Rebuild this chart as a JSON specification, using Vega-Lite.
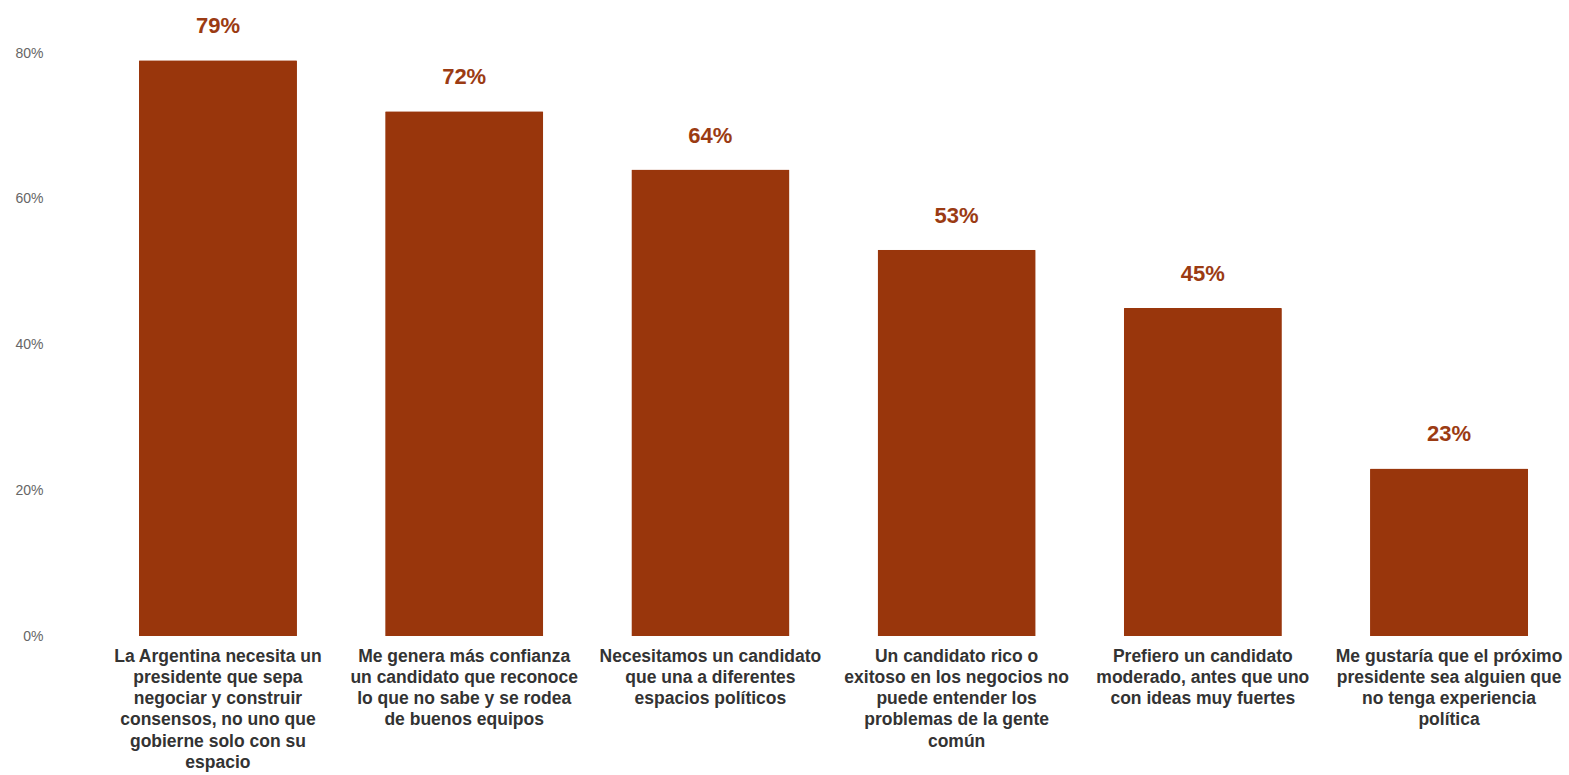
{
  "$schema": "https://vega.github.io/schema/vega-lite/v6.json",
  "autosize": {"type": "none"},
  "padding": {"left": 100, "top": 53, "right": 2, "bottom": 139},
  "width": 1467,
  "height": 583,
  "background": "white",
  "config": {"view": {"stroke": null}},
  "data": {
    "values": [
      {"label": "La Argentina necesita un|presidente que sepa|negociar y construir|consensos, no uno que|gobierne solo con su|espacio", "value": 0.79, "text": "79%"},
      {"label": "Me genera más confianza|un candidato que reconoce|lo que no sabe y se rodea|de buenos equipos", "value": 0.72, "text": "72%"},
      {"label": "Necesitamos un candidato|que una a diferentes|espacios políticos", "value": 0.64, "text": "64%"},
      {"label": "Un candidato rico o|exitoso en los negocios no|puede entender los|problemas de la gente|común", "value": 0.53, "text": "53%"},
      {"label": "Prefiero un candidato|moderado, antes que uno|con ideas muy fuertes", "value": 0.45, "text": "45%"},
      {"label": "Me gustaría que el próximo|presidente sea alguien que|no tenga experiencia|política", "value": 0.23, "text": "23%"}
    ]
  },
  "encoding": {
    "x": {
      "field": "label", "type": "nominal", "sort": null,
      "scale": {"paddingInner": 0.358, "paddingOuter": 0.158},
      "axis": {
        "title": null, "labelAngle": 0, "ticks": false, "domain": false,
        "labelExpr": "split(datum.value, '|')",
        "labelFont": "Liberation Sans", "labelFontSize": 17.5, "labelFontWeight": "bold",
        "labelColor": "#333333", "labelLineHeight": 21.3, "labelPadding": 11,
        "labelBaseline": "top", "labelLimit": 400
      }
    },
    "y": {
      "field": "value", "type": "quantitative",
      "scale": {"domain": [0, 0.8], "nice": false},
      "axis": {
        "title": null, "format": ".0%", "values": [0, 0.2, 0.4, 0.6, 0.8],
        "grid": false, "ticks": false, "domain": false,
        "labelFont": "Liberation Sans", "labelFontSize": 14, "labelColor": "#666666",
        "labelPadding": 2, "offset": 55
      }
    }
  },
  "layer": [
    {"mark": {"type": "bar", "color": "#99360c", "cornerRadiusTopLeft": 1, "cornerRadiusTopRight": 1}},
    {
      "mark": {"type": "text", "dy": -27, "baseline": "alphabetic", "font": "Liberation Sans", "fontSize": 22, "fontWeight": "bold", "color": "#9b3b13"},
      "encoding": {"text": {"field": "text"}}
    }
  ]
}
